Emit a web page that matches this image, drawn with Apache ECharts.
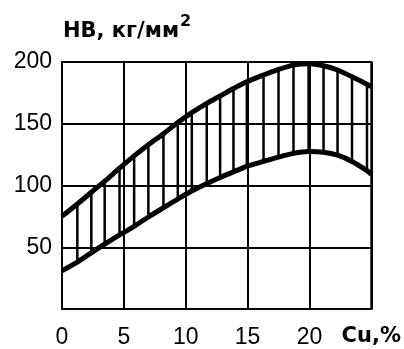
<!DOCTYPE html>
<html>
<head>
<meta charset="utf-8">
<script src="https://cdn.jsdelivr.net/npm/echarts@6/dist/echarts.min.js"></script>
<style>
  html, body { margin: 0; padding: 0; background: #fff; }
  #chart { width: 404px; height: 349px; }
</style>
</head>
<body>
<div id="chart"></div>
<script>
// Cu content, % (band edges + hatch positions)
const cuPct = [0, 1.24, 2.37, 3.45, 4.65, 5.83, 6.98, 8.2, 9.36, 10.49, 11.7, 12.78,
  13.86, 14.94, 16.29, 17.5, 18.71, 19.93, 21.14, 22.27, 23.44, 24.65, 25];
// upper edge of the HB band
const hbUpper = [75, 85, 94.5, 103.5, 114, 124, 133, 142, 151, 159, 166.5, 172.5,
  178.5, 184, 189.5, 194, 197.5, 198.5, 197, 193.5, 188, 182, 180];
// lower edge of the HB band
const hbLower = [31, 38, 45.5, 52.5, 60, 67, 74.5, 82, 89, 95.5, 101.5, 106.5,
  111, 115.5, 119.5, 123, 126, 127.5, 127, 124.5, 119.5, 112, 109];
const xTicks = [0, 5, 10, 15, 20, 25];
const yTicks = [0, 50, 100, 150, 200];

const chart = echarts.init(document.getElementById('chart'));

const upperData = cuPct.map((x, i) => [x, hbUpper[i]]);
const lowerData = cuPct.map((x, i) => [x, hbLower[i]]);
// hatch strokes, skipping the two band ends
const hatchData = cuPct.slice(1, -1).map((x, i) => [x, hbLower[i + 1], hbUpper[i + 1]]);

const numFont = { color: '#000', fontFamily: 'Liberation Sans', fontSize: 23 };

chart.setOption({
  animation: false,
  backgroundColor: '#fff',
  title: {
    left: 58,
    top: 9,
    text: '{t|НВ, кг/мм}{s|2}',
    textStyle: {
      rich: {
        t: { fontFamily: 'DejaVu Sans', fontWeight: 'bold', fontSize: 21, color: '#000', verticalAlign: 'bottom' },
        s: { fontFamily: 'DejaVu Sans', fontWeight: 'bold', fontSize: 16, color: '#000', verticalAlign: 'top', padding: [0, 0, 12, 1] }
      }
    }
  },
  grid: {
    left: 62, top: 62, right: 32, bottom: 31,
    show: true, borderColor: '#000', borderWidth: 2
  },
  xAxis: {
    type: 'value',
    min: 0, max: 25, interval: 5,
    axisLine: { show: true, lineStyle: { color: '#000', width: 2 } },
    axisTick: { show: false },
    splitLine: { show: true, lineStyle: { color: '#000', width: 2 } },
    axisLabel: {
      ...numFont,
      margin: 17,
      showMaxLabel: true,
      formatter: v => (v === 25 ? '{b|Cu,%}' : String(v)),
      rich: {
        b: { fontFamily: 'DejaVu Sans', fontWeight: 'bold', fontSize: 21, color: '#000' }
      }
    }
  },
  yAxis: {
    type: 'value',
    min: 0, max: 200, interval: 50,
    axisLine: { show: true, lineStyle: { color: '#000', width: 2 } },
    axisTick: { show: false },
    splitLine: { show: true, lineStyle: { color: '#000', width: 2 } },
    axisLabel: {
      ...numFont,
      margin: 10,
      formatter: v => (yTicks.includes(v) && v !== 0 ? String(v) : '')
    }
  },
  series: [
    {
      type: 'custom',
      data: hatchData,
      clip: true,
      renderItem: (params, api) => {
        const top = api.coord([api.value(0), api.value(2)]);
        const bot = api.coord([api.value(0), api.value(1)]);
        return {
          type: 'line',
          shape: { x1: top[0], y1: top[1], x2: bot[0], y2: bot[1] },
          style: { stroke: '#000', lineWidth: 2.5 }
        };
      },
      z: 3
    },
    {
      type: 'line',
      data: upperData,
      smooth: 0.3,
      symbol: 'none',
      lineStyle: { color: '#000', width: 5 },
      z: 4
    },
    {
      type: 'line',
      data: lowerData,
      smooth: 0.3,
      symbol: 'none',
      lineStyle: { color: '#000', width: 5 },
      z: 4
    }
  ]
});
</script>
</body>
</html>
